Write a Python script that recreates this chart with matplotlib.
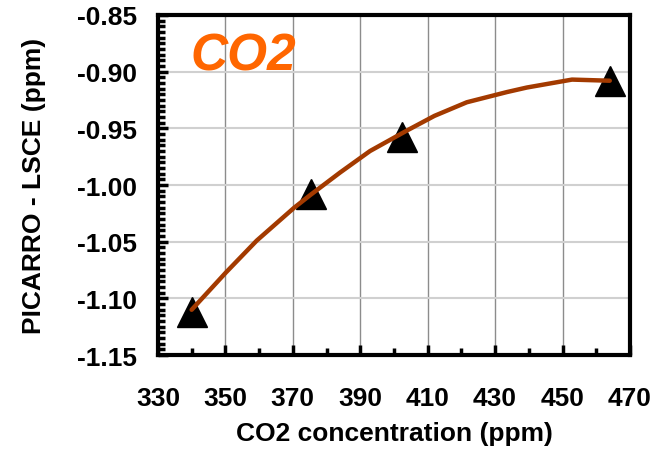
import matplotlib
matplotlib.use("Agg")
import matplotlib.pyplot as plt
from matplotlib.ticker import MultipleLocator, FormatStrFormatter

plt.rcParams['font.family'] = ['Liberation Sans', 'DejaVu Sans']
plt.rcParams['font.weight'] = 'bold'

# measured points (CO2 ppm, PICARRO - LSCE difference)
co2_meas = [340.0, 375.3, 402.3, 464.0]
diff_meas = [-1.112, -1.008, -0.958, -0.908]

# fitted trend curve
co2_fit = [340.0, 350.2, 359.3, 370.4, 375.1, 384.0, 392.9, 403.8, 412.0,
           421.6, 433.5, 439.4, 452.8, 464.0]
diff_fit = [-1.110, -1.077, -1.049, -1.020, -1.009, -0.989, -0.970, -0.952,
            -0.939, -0.927, -0.918, -0.914, -0.907, -0.908]

fig = plt.figure(figsize=(6.72, 4.56), dpi=100)
ax = fig.add_axes([0.235, 0.219, 0.7025, 0.746])

ax.plot(co2_meas, diff_meas, linestyle='none', marker='^', markersize=21,
        color='black', zorder=3)
ax.plot(co2_fit, diff_fit, color='#A33A00', linewidth=3.2, zorder=4,
        solid_capstyle='round')

ax.set_xlim(330, 470)
ax.set_ylim(-1.15, -0.85)
ax.xaxis.set_major_locator(MultipleLocator(20, offset=10))
ax.xaxis.set_minor_locator(MultipleLocator(10))
ax.yaxis.set_major_locator(MultipleLocator(0.05))
ax.yaxis.set_minor_locator(MultipleLocator(0.005))
ax.yaxis.set_major_formatter(FormatStrFormatter('%.2f'))

ax.grid(axis='x', which='major', color='#8c8c8c', linewidth=1)
ax.grid(axis='y', which='major', color='#d0d0d0', linewidth=1.5)
ax.set_axisbelow(True)

for s in ax.spines.values():
    s.set_linewidth(3)
ax.tick_params(which='major', direction='in', length=7, width=2.5,
               labelsize=19)
ax.tick_params(which='minor', direction='in', length=5, width=2.5)
ax.tick_params(axis='x', pad=22)
ax.tick_params(axis='y', pad=15)

ax.set_xlabel('CO2 concentration (ppm)', fontsize=19, fontweight='bold',
              labelpad=8)
ax.set_ylabel('PICARRO - LSCE (ppm)', fontsize=19, fontweight='bold',
              labelpad=22)

ax.text(0.07, 0.84, 'CO2', transform=ax.transAxes, fontsize=37,
        fontweight='bold', fontstyle='italic', color='#FF6600', zorder=5,
        va='baseline')

fig.savefig('out.png', dpi=100)
